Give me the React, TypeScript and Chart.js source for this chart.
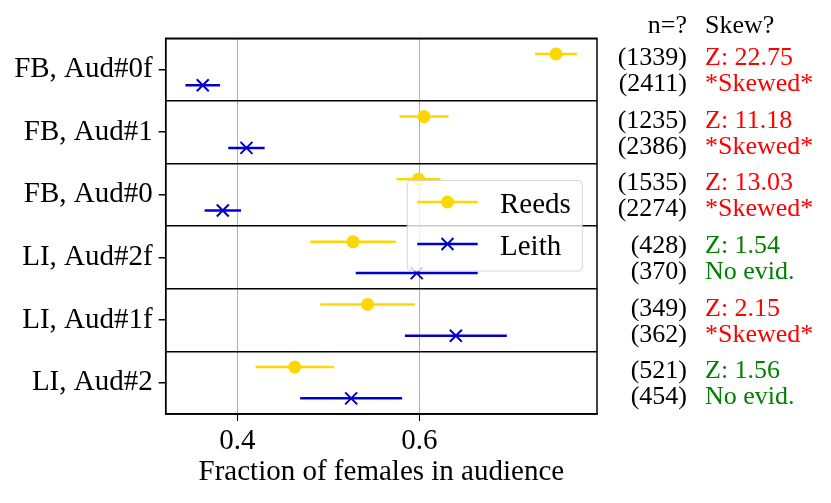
import React, { useEffect, useRef } from 'react';
import { Chart, registerables } from 'chart.js';

Chart.register(...registerables);

const categories = ['FB, Aud#0f', 'FB, Aud#1', 'FB, Aud#0', 'LI, Aud#2f', 'LI, Aud#1f', 'LI, Aud#2'];
const reedsMean = [0.750, 0.605, 0.599, 0.527, 0.543, 0.463];
const reedsErr = [0.023, 0.027, 0.024, 0.047, 0.052, 0.043];
const leithMean = [0.362, 0.410, 0.384, 0.597, 0.640, 0.525];
const leithErr = [0.019, 0.020, 0.020, 0.067, 0.056, 0.056];
const reedsN = [1339, 1235, 1535, 428, 349, 521];
const leithN = [2411, 2386, 2274, 370, 362, 454];
const zScores = ['22.75', '11.18', '13.03', '1.54', '2.15', '1.56'];
const verdicts = ['*Skewed*', '*Skewed*', '*Skewed*', 'No evid.', '*Skewed*', 'No evid.'];
const xTicks = [0.4, 0.6];

const GOLD = '#ffd700';
const BLUE = '#0000cd';
const FONT = "'Liberation Serif', 'Times New Roman', serif";

const OFF = 0.25;

const bars = (mean: number[], err: number[], off: number) =>
  mean.flatMap((m, i) => [
    { x: m - err[i], y: i + off },
    { x: m + err[i], y: i + off },
    { x: null, y: null },
  ]);

const isHalf = (v: number) => Math.abs(v - Math.round(v)) > 0.1;

const extras = {
  id: 'extras',
  beforeDatasetsDraw(chart: any) {
    const { ctx, chartArea } = chart;
    ctx.save();
    ctx.strokeStyle = '#000';
    ctx.lineWidth = 1.5;
    ctx.strokeRect(chartArea.left, chartArea.top, chartArea.right - chartArea.left, chartArea.bottom - chartArea.top);
    ctx.restore();
  },
  afterDraw(chart: any) {
    const { ctx } = chart;
    const y = chart.scales.y;
    ctx.save();

    // legend
    const lx = 399.3, ly = 172.5, lw = 175, lh = 90.5;
    ctx.beginPath();
    ctx.roundRect(lx, ly, lw, lh, 4);
    ctx.fillStyle = 'rgba(255,255,255,0.8)';
    ctx.fill();
    ctx.strokeStyle = 'rgba(204,204,204,0.8)';
    ctx.lineWidth = 1;
    ctx.stroke();

    const entries = [
      { label: 'Reeds', color: GOLD, y: 194, marker: 'circle' },
      { label: 'Leith', color: BLUE, y: 236, marker: 'cross' },
    ];
    ctx.font = `29px ${FONT}`;
    ctx.textBaseline = 'alphabetic';
    ctx.textAlign = 'left';
    entries.forEach((e) => {
      ctx.strokeStyle = e.color;
      ctx.lineWidth = 2.5;
      ctx.beginPath();
      ctx.moveTo(409.3, e.y);
      ctx.lineTo(469.7, e.y);
      ctx.stroke();
      const cx = 439.5;
      if (e.marker === 'circle') {
        ctx.fillStyle = e.color;
        ctx.beginPath();
        ctx.arc(cx, e.y, 6.5, 0, Math.PI * 2);
        ctx.fill();
      } else {
        ctx.lineWidth = 2;
        const r = 6;
        ctx.beginPath();
        ctx.moveTo(cx - r, e.y - r);
        ctx.lineTo(cx + r, e.y + r);
        ctx.moveTo(cx - r, e.y + r);
        ctx.lineTo(cx + r, e.y - r);
        ctx.stroke();
      }
      ctx.fillStyle = '#000';
      ctx.fillText(e.label, 492, e.y + 11);
    });

    // n / skew columns
    const nx = 679, sx = 697;
    ctx.font = `26px ${FONT}`;
    const top = y.getPixelForValue(0);
    ctx.fillStyle = '#000';
    ctx.textAlign = 'right';
    ctx.fillText('n=?', nx, top - 36.6);
    ctx.textAlign = 'left';
    ctx.fillText('Skew?', sx, top - 36.6);
    categories.forEach((_, i) => {
      const c = y.getPixelForValue(i);
      const col = verdicts[i] === 'No evid.' ? '#008000' : '#ff0000';
      ctx.fillStyle = '#000';
      ctx.textAlign = 'right';
      ctx.fillText(`(${reedsN[i]})`, nx, c - 4.5);
      ctx.fillText(`(${leithN[i]})`, nx, c + 21.5);
      ctx.fillStyle = col;
      ctx.textAlign = 'left';
      ctx.fillText(`Z: ${zScores[i]}`, sx, c - 4.5);
      ctx.fillText(verdicts[i], sx, c + 21.5);
    });
    ctx.restore();
  },
};

const App: React.FC = () => {
  const canvasRef = useRef<HTMLCanvasElement>(null);
  const chartRef = useRef<Chart | null>(null);

  useEffect(() => {
    if (chartRef.current) chartRef.current.destroy();
    if (!canvasRef.current) return;
    const ctx = canvasRef.current.getContext('2d');
    if (!ctx) return;

    Chart.defaults.font.family = FONT;
    Chart.defaults.color = '#000';

    const yTicks: number[] = [];
    for (let v = -0.5; v <= categories.length - 0.5 + 1e-9; v += 0.5) yTicks.push(v);

    // @ts-ignore
    chartRef.current = new Chart(ctx, {
      type: 'scatter',
      data: {
        datasets: [
          {
            label: 'Reeds',
            data: reedsMean.map((m, i) => ({ x: m, y: i - OFF })),
            pointStyle: 'circle',
            pointRadius: 6.5,
            backgroundColor: GOLD,
            borderColor: GOLD,
            borderWidth: 0,
          },
          {
            label: 'Leith',
            data: leithMean.map((m, i) => ({ x: m, y: i + OFF })),
            pointStyle: 'crossRot',
            pointRadius: 8.5,
            borderColor: BLUE,
            borderWidth: 2,
          },
          {
            label: 'Reeds err',
            data: bars(reedsMean, reedsErr, -OFF),
            showLine: true,
            spanGaps: false,
            borderColor: GOLD,
            borderWidth: 2.5,
            pointRadius: 0,
          },
          {
            label: 'Leith err',
            data: bars(leithMean, leithErr, OFF),
            showLine: true,
            spanGaps: false,
            borderColor: BLUE,
            borderWidth: 2.5,
            pointRadius: 0,
          },
        ],
      },
      options: {
        animation: false,
        responsive: false,
        maintainAspectRatio: false,
        layout: { padding: { left: 0, right: 226, top: 30.3, bottom: 0 } },
        plugins: { legend: { display: false }, tooltip: { enabled: false } },
        scales: {
          x: {
            type: 'linear',
            min: 0.3213,
            max: 0.795,
            afterBuildTicks: (s: any) => { s.ticks = xTicks.map((v) => ({ value: v })); },
            afterFit: (s: any) => { s.height = 81; },
            ticks: {
              font: { size: 29 },
              color: '#000',
              padding: 3,
              callback: (v: any) => Number(v).toFixed(1),
            },
            grid: { color: '#b0b0b0', tickColor: '#000', lineWidth: 1, tickLength: 7 },
            border: { display: true, color: '#000', width: 1.5 },
            title: {
              display: true,
              text: 'Fraction of females in audience',
              font: { size: 29 },
              color: '#000',
              padding: { top: 0, bottom: 5 },
            },
          },
          y: {
            type: 'linear',
            reverse: true,
            min: -0.5,
            max: categories.length - 0.5,
            afterBuildTicks: (s: any) => { s.ticks = yTicks.map((v) => ({ value: v })); },
            afterFit: (s: any) => { s.width = 157.7; },
            ticks: {
              autoSkip: false,
              font: { size: 29 },
              color: '#000',
              padding: 6,
              callback: (v: any) => (isHalf(Number(v)) ? '' : categories[Math.round(Number(v))]),
            },
            grid: {
              color: (c: any) => (isHalf(c.tick.value) ? '#000' : 'rgba(0,0,0,0)'),
              tickColor: (c: any) => (isHalf(c.tick.value) ? 'rgba(0,0,0,0)' : '#000'),
              lineWidth: 1.5,
              tickLength: 7,
            },
            border: { display: true, color: '#000', width: 1.5 },
          },
        },
      },
      plugins: [extras],
    });

    return () => {
      if (chartRef.current) {
        chartRef.current.destroy();
        chartRef.current = null;
      }
    };
  }, []);

  return (
    <div style={{ width: 815, height: 487 }}>
      <canvas ref={canvasRef} width={815} height={487}></canvas>
    </div>
  );
};

export default App;
